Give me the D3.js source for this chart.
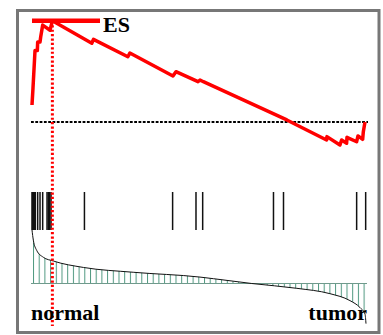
<!DOCTYPE html>
<html>
<head>
<meta charset="utf-8">
<script src="https://cdn.jsdelivr.net/npm/d3@7"></script>
<style>
  body { margin: 0; background: #fff; }
  svg { display: block; }
</style>
</head>
<body>
<div id="chart"></div>
<script>
// running enrichment score: [rank, ES]
const esPoints = [
  [0, 0.10], [3, 0.20], [9, 0.42], [16, 0.42], [17, 0.47], [24, 0.47],
  [26, 0.50], [32, 0.57], [54, 0.54], [61, 0.595], [179, 0.463], [184, 0.486],
  [287, 0.384], [293, 0.406], [422, 0.271], [431, 0.296], [497, 0.237],
  [503, 0.247], [513, 0.237], [763, 0.012], [882, -0.106], [883, -0.086],
  [922, -0.135], [927, -0.106], [942, -0.125], [943, -0.09], [972, -0.116],
  [976, -0.082], [990, -0.102], [992, -0.057], [997, 0.0]
];
// gene set hits (ranks)
const hits = [0, 2, 4, 6, 8, 10, 17, 24, 32, 45, 49, 53, 57, 157, 421, 491, 511, 723, 753, 972, 999];
// ranked list metric: [rank, value]
const metric = [
  [0, 1.0], [4, 0.81], [14, 0.62], [34, 0.49], [64, 0.42], [154, 0.30],
  [303, 0.21], [503, 0.12], [543, 0.09], [658, 0.0], [793, -0.09],
  [892, -0.19], [952, -0.32], [982, -0.45], [997, -0.57], [1000, -0.75]
];
const labels = { es: 'ES', left: 'normal', right: 'tumor' };

const W = 383, H = 335;
const svg = d3.select('#chart').append('svg')
  .attr('width', W).attr('height', H);

svg.append('rect').attr('width', W).attr('height', H).attr('fill', '#fff');

// outer frame
svg.append('rect')
  .attr('x', 17.5).attr('y', 10.5)
  .attr('width', 361.5).attr('height', 322)
  .attr('fill', 'none')
  .attr('stroke', '#777')
  .attr('stroke-width', 3);

const x = d3.scaleLinear().domain([0, 1000]).range([32, 366]);
const yES = d3.scaleLinear().domain([0, 0.6]).range([122, 20]);
const yM = d3.scaleLinear().domain([0, 1]).range([283.5, 230]);

// zero line
svg.append('line')
  .attr('x1', x(0) - 1).attr('x2', x(1000) + 2)
  .attr('y1', yES(0)).attr('y2', yES(0))
  .attr('stroke', '#000')
  .attr('stroke-width', 2.2)
  .attr('stroke-dasharray', '2.8,1.5');

// metric area, filled with vertical hatch lines
const defs = svg.append('defs');
const pat = defs.append('pattern')
  .attr('id', 'hatch')
  .attr('patternUnits', 'userSpaceOnUse')
  .attr('x', x(0) + 1).attr('y', 0)
  .attr('width', 5.7).attr('height', 10);
pat.append('line')
  .attr('x1', 0.5).attr('x2', 0.5).attr('y1', 0).attr('y2', 10)
  .attr('stroke', '#4f9880').attr('stroke-width', 1);

const area = d3.area()
  .x(d => x(d[0]))
  .y0(yM(0))
  .y1(d => yM(d[1]))
  .curve(d3.curveMonotoneX);

svg.append('path')
  .datum(metric)
  .attr('d', area)
  .attr('fill', 'url(#hatch)');

svg.append('line')
  .attr('x1', x(0) - 1).attr('x2', x(1000) + 1)
  .attr('y1', yM(0)).attr('y2', yM(0))
  .attr('stroke', '#6f9a8c').attr('stroke-width', 1);

svg.append('path')
  .datum(metric)
  .attr('d', d3.line().x(d => x(d[0])).y(d => yM(d[1])).curve(d3.curveMonotoneX))
  .attr('fill', 'none')
  .attr('stroke', '#111')
  .attr('stroke-width', 1);

// hit barcode
svg.selectAll('.hit')
  .data(hits)
  .enter().append('line')
  .attr('class', 'hit')
  .attr('x1', d => x(d)).attr('x2', d => x(d))
  .attr('y1', 192).attr('y2', 230)
  .attr('stroke', '#111')
  .attr('stroke-width', 1.5);

// running ES
svg.append('path')
  .datum(esPoints)
  .attr('d', d3.line().x(d => x(d[0])).y(d => yES(d[1])))
  .attr('fill', 'none')
  .attr('stroke', '#ff0000')
  .attr('stroke-width', 3.5)
  .attr('stroke-linejoin', 'round');

const peak = esPoints.reduce((a, b) => (b[1] > a[1] ? b : a));

// ES marker line + label
svg.append('line')
  .attr('x1', x(0)).attr('x2', 100)
  .attr('y1', yES(peak[1])).attr('y2', yES(peak[1]))
  .attr('stroke', '#ff0000')
  .attr('stroke-width', 4.5);

svg.append('line')
  .attr('x1', x(peak[0])).attr('x2', x(peak[0]))
  .attr('y1', yES(peak[1])).attr('y2', 326)
  .attr('stroke', '#ff0000')
  .attr('stroke-width', 3)
  .attr('stroke-dasharray', '2.2,2.2');

svg.append('text')
  .attr('x', 103).attr('y', 31.5)
  .attr('font-family', 'Liberation Serif, Times New Roman, serif')
  .attr('font-weight', 'bold')
  .attr('font-size', 22)
  .text(labels.es);

svg.append('text')
  .attr('x', 31).attr('y', 320)
  .attr('font-family', 'Liberation Serif, Times New Roman, serif')
  .attr('font-weight', 'bold')
  .attr('font-size', 22)
  .text(labels.left);

svg.append('text')
  .attr('x', 367).attr('y', 320)
  .attr('text-anchor', 'end')
  .attr('font-family', 'Liberation Serif, Times New Roman, serif')
  .attr('font-weight', 'bold')
  .attr('font-size', 22)
  .text(labels.right);
</script>
</body>
</html>
